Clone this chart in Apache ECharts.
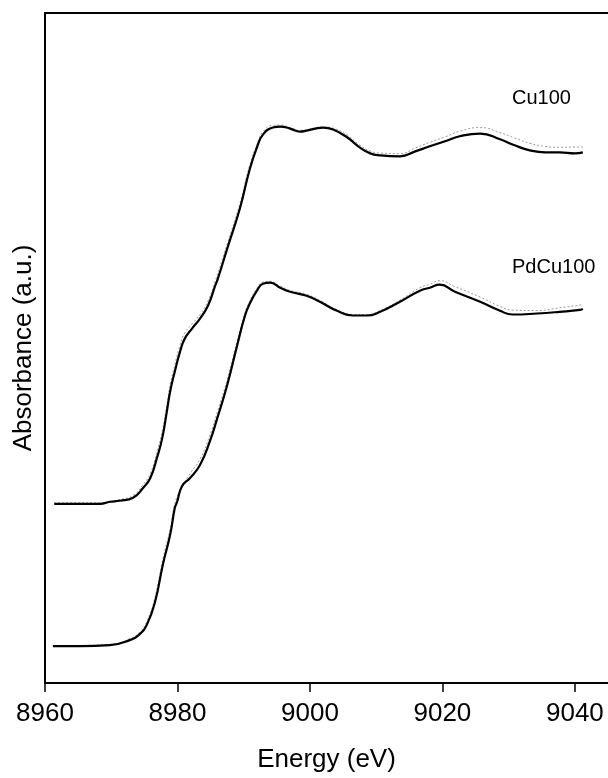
<!DOCTYPE html>
<html>
<head>
<meta charset="utf-8">
<script src="https://cdn.jsdelivr.net/npm/echarts@6/dist/echarts.min.js"></script>
<style>
html,body{margin:0;padding:0;background:#fff;}
#chart{width:608px;height:778px;}
</style>
</head>
<body>
<div id="chart"></div>
<script>
// X axis ticks
const xTicks = [8960, 8980, 9000, 9020, 9040];

// Cu100 sample (black, solid)
const cu100E = [8961.4, 8965.3, 8968.3, 8969.8, 8971.3, 8973.3, 8974.8, 8975.9, 8976.9, 8977.7, 8978.4, 8978.9, 8979.6, 8980.4, 8981.1, 8982.2, 8983.4, 8984.6, 8985.7, 8986.1, 8987.5, 8989.4, 8990.9, 8992.0, 8992.9, 8994.4, 8995.5, 8997.0, 8998.5, 8999.5, 9000.8, 9002.0, 9003.5, 9005.6, 9007.5, 9009.1, 9010.6, 9013.6, 9015.9, 9018.1, 9020.4, 9022.6, 9025.7, 9028.7, 9030.9, 9033.2, 9035.5, 9037.7, 9040.0, 9041.2];
const cu100A = [0.535, 0.535, 0.535, 0.541, 0.544, 0.553, 0.582, 0.612, 0.672, 0.731, 0.811, 0.871, 0.930, 0.990, 1.028, 1.058, 1.088, 1.126, 1.186, 1.207, 1.296, 1.415, 1.533, 1.599, 1.637, 1.658, 1.661, 1.655, 1.646, 1.649, 1.655, 1.658, 1.652, 1.629, 1.599, 1.581, 1.575, 1.572, 1.587, 1.602, 1.617, 1.632, 1.640, 1.623, 1.605, 1.590, 1.584, 1.584, 1.581, 1.584];

// Cu100 reference (grey, dotted)
const cu100RefE = [8961.4, 8968.3, 8971.3, 8973.3, 8974.8, 8975.9, 8976.9, 8977.7, 8978.4, 8978.9, 8979.6, 8980.4, 8981.1, 8982.2, 8983.4, 8984.6, 8985.7, 8987.5, 8989.4, 8990.9, 8992.0, 8992.9, 8994.4, 8995.5, 8997.0, 8998.5, 8999.5, 9000.8, 9002.0, 9003.5, 9005.6, 9007.5, 9009.1, 9010.6, 9013.6, 9015.9, 9018.1, 9020.4, 9022.6, 9025.7, 9028.7, 9030.9, 9033.2, 9035.5, 9037.7, 9040.0, 9041.2];
const cu100RefA = [0.538, 0.538, 0.548, 0.560, 0.592, 0.625, 0.690, 0.752, 0.830, 0.890, 0.950, 1.010, 1.045, 1.072, 1.100, 1.140, 1.200, 1.310, 1.430, 1.545, 1.608, 1.645, 1.665, 1.666, 1.658, 1.650, 1.652, 1.657, 1.660, 1.656, 1.636, 1.606, 1.588, 1.582, 1.580, 1.597, 1.614, 1.630, 1.647, 1.658, 1.643, 1.627, 1.611, 1.602, 1.599, 1.600, 1.600];

// PdCu100 sample (black, solid)
const pdcuE = [8961.2, 8965.3, 8969.8, 8972.8, 8974.3, 8975.4, 8976.6, 8977.8, 8978.9, 8979.6, 8979.9, 8980.7, 8981.9, 8983.4, 8984.9, 8986.0, 8987.5, 8989.0, 8990.2, 8990.9, 8992.0, 8992.9, 8994.0, 8995.5, 8997.0, 8999.5, 9001.5, 9004.1, 9006.5, 9008.6, 9010.6, 9013.6, 9016.6, 9018.1, 9019.6, 9021.9, 9025.7, 9028.7, 9030.6, 9034.3, 9037.7, 9040.8, 9041.2];
const pdcuA = [0.110, 0.110, 0.113, 0.128, 0.146, 0.175, 0.241, 0.354, 0.443, 0.523, 0.538, 0.588, 0.612, 0.651, 0.722, 0.790, 0.889, 1.007, 1.097, 1.132, 1.171, 1.192, 1.195, 1.180, 1.168, 1.156, 1.138, 1.111, 1.097, 1.097, 1.108, 1.138, 1.171, 1.180, 1.189, 1.168, 1.138, 1.111, 1.100, 1.103, 1.108, 1.114, 1.117];

// PdCu100 reference (grey, dotted)
const pdcuRefE = [8961.2, 8969.8, 8972.8, 8974.3, 8975.4, 8976.6, 8977.8, 8978.9, 8979.6, 8980.4, 8981.9, 8983.4, 8984.9, 8986.0, 8987.5, 8989.0, 8990.2, 8990.9, 8992.0, 8992.9, 8994.0, 8995.5, 8997.0, 8999.5, 9001.5, 9004.1, 9006.5, 9008.6, 9010.6, 9013.6, 9016.6, 9018.1, 9019.6, 9021.9, 9025.7, 9028.7, 9030.6, 9034.3, 9037.7, 9040.8, 9041.2];
const pdcuRefA = [0.110, 0.115, 0.132, 0.152, 0.185, 0.255, 0.370, 0.460, 0.535, 0.575, 0.625, 0.668, 0.740, 0.808, 0.905, 1.020, 1.105, 1.140, 1.178, 1.197, 1.199, 1.185, 1.172, 1.160, 1.142, 1.114, 1.100, 1.100, 1.112, 1.143, 1.180, 1.190, 1.201, 1.183, 1.152, 1.124, 1.113, 1.112, 1.120, 1.128, 1.130];

const seriesNames = ['Cu100', 'PdCu100'];

function pairs(xs, ys) { return xs.map((x, i) => [x, ys[i]]); }

const chart = echarts.init(document.getElementById('chart'), null, {renderer: 'canvas'});
const FONT = '"Liberation Sans", Arial, sans-serif';

const refLine = {color: '#9a9a9a', width: 1, type: [2, 2]};
const mainLine = {color: '#000', width: 2.2};

chart.setOption({
  animation: false,
  backgroundColor: '#fff',
  grid: {left: 45, right: 0, top: 13, bottom: 92},
  xAxis: [{
    type: 'value', min: xTicks[0], max: 9045, interval: 20,
    name: 'Energy (eV)', nameLocation: 'middle', nameGap: 64,
    nameTextStyle: {fontFamily: FONT, fontSize: 26, color: '#000'},
    axisLine: {show: true, onZero: false, lineStyle: {color: '#000', width: 2}},
    axisTick: {show: true, inside: false, length: 9, lineStyle: {color: '#000', width: 1.5}},
    axisLabel: {margin: 18, fontFamily: FONT, fontSize: 26, color: '#000', showMaxLabel: false,
      formatter: v => String(v)},
    splitLine: {show: false}
  }, {
    type: 'value', position: 'top', min: xTicks[0], max: 9045,
    axisLine: {show: true, onZero: false, lineStyle: {color: '#000', width: 2}},
    axisTick: {show: false}, axisLabel: {show: false}, splitLine: {show: false}
  }],
  yAxis: {
    type: 'value', min: 0, max: 2,
    name: 'Absorbance (a.u.)', nameLocation: 'middle', nameGap: 8,
    nameTextStyle: {fontFamily: FONT, fontSize: 26, color: '#000'},
    axisLine: {show: true, onZero: false, lineStyle: {color: '#000', width: 2}},
    axisTick: {show: false}, axisLabel: {show: false}, splitLine: {show: false}
  },
  graphic: [
    {type: 'text', left: 512, top: 88, style: {text: seriesNames[0], font: '20px ' + FONT, fill: '#000'}},
    {type: 'text', left: 512, top: 257, style: {text: seriesNames[1], font: '20px ' + FONT, fill: '#000'}}
  ],
  series: [
    {type: 'line', name: seriesNames[0] + ' ref', data: pairs(cu100RefE, cu100RefA), showSymbol: false, smooth: 0.5, lineStyle: refLine},
    {type: 'line', name: seriesNames[1] + ' ref', data: pairs(pdcuRefE, pdcuRefA), showSymbol: false, smooth: 0.5, lineStyle: refLine},
    {type: 'line', name: seriesNames[0], data: pairs(cu100E, cu100A), showSymbol: false, smooth: 0.5, lineStyle: mainLine},
    {type: 'line', name: seriesNames[1], data: pairs(pdcuE, pdcuA), showSymbol: false, smooth: 0.5, lineStyle: mainLine}
  ]
});
</script>
</body>
</html>
